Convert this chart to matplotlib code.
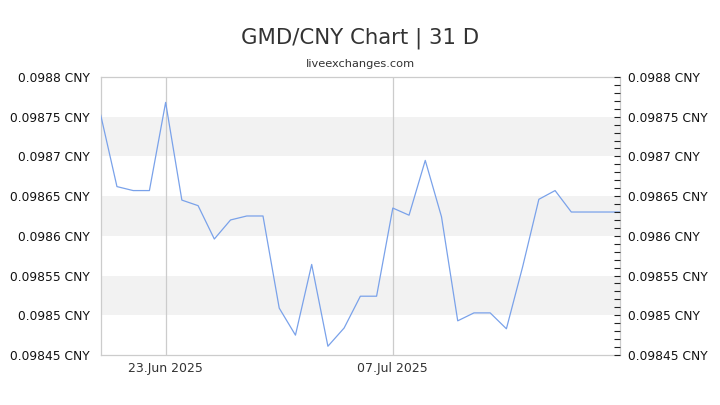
import numpy as np
import matplotlib
matplotlib.use('Agg')
import matplotlib.pyplot as plt
import matplotlib.dates as mdates
from matplotlib.ticker import MultipleLocator, FuncFormatter

dates = np.arange(np.datetime64('2025-06-19'), np.datetime64('2025-07-22'))
rates = [0.098752, 0.098662, 0.098657, 0.098657, 0.098768, 0.098645, 0.098638,
         0.098596, 0.098620, 0.098625, 0.098625, 0.098509, 0.098475, 0.098564,
         0.098461, 0.098484, 0.098524, 0.098524, 0.098635, 0.098626, 0.098695,
         0.098624, 0.098493, 0.098503, 0.098503, 0.098483, 0.098561, 0.098646,
         0.098657, 0.098630, 0.098630, 0.098630, 0.098630]
xtick_dates = [np.datetime64('2025-06-23'), np.datetime64('2025-07-07')]
ytick_vals = [0.09845, 0.0985, 0.09855, 0.0986, 0.09865, 0.0987, 0.09875, 0.0988]
band_pairs = [(0.0985, 0.09855), (0.0986, 0.09865), (0.0987, 0.09875)]

txt = '#333333'
fig = plt.figure(figsize=(7.2, 4.05), dpi=100)
ax = fig.add_axes([0.1399, 0.1235, 0.7212, 0.6864])
x = dates.astype('datetime64[D]').astype(object)
ax.plot(x, rates, color='#7aa2ea', lw=0.9, zorder=3)
for lo, hi in band_pairs:
    ax.axhspan(lo, hi, color='#f2f2f2', lw=0, zorder=0)
for d in xtick_dates:
    ax.axvline(d.astype(object), color='#cccccc', lw=0.9, zorder=1)
ax.set_xlim(x[0], x[-1])
ax.set_ylim(ytick_vals[0], ytick_vals[-1])

fmt = FuncFormatter(lambda v, p: f'{v:.5f}'.rstrip('0') + ' CNY')
ax.set_yticks(ytick_vals)
ax.yaxis.set_major_formatter(fmt)
ax.tick_params(axis='y', length=0, labelsize=8.8, labelcolor='#111111', pad=8)
ax.set_xticks([d.astype(object) for d in xtick_dates])
ax.xaxis.set_major_formatter(mdates.DateFormatter('%d.%b %Y'))
ax.tick_params(axis='x', length=0, labelsize=9, labelcolor=txt, pad=5)
for s in ax.spines.values():
    s.set_color('#cccccc')
    s.set_linewidth(0.9)

ax2 = ax.twinx()
ax2.set_ylim(ax.get_ylim())
ax2.set_yticks(ytick_vals)
ax2.yaxis.set_major_formatter(fmt)
ax2.yaxis.set_minor_locator(MultipleLocator(0.00001))
ax2.tick_params(axis='y', which='both', direction='in', length=4, width=0.8,
                color='#222222', labelsize=8.8, labelcolor='#111111', pad=6)
for s in ax2.spines.values():
    s.set_visible(False)

fig.text(0.5, 0.905, 'GMD/CNY Chart | 31 D', ha='center', va='center',
         fontsize=15.3, color=txt)
fig.text(0.5, 0.843, 'liveexchanges.com', ha='center', va='center',
         fontsize=8.2, color=txt)
fig.savefig('out.png', dpi=100)
